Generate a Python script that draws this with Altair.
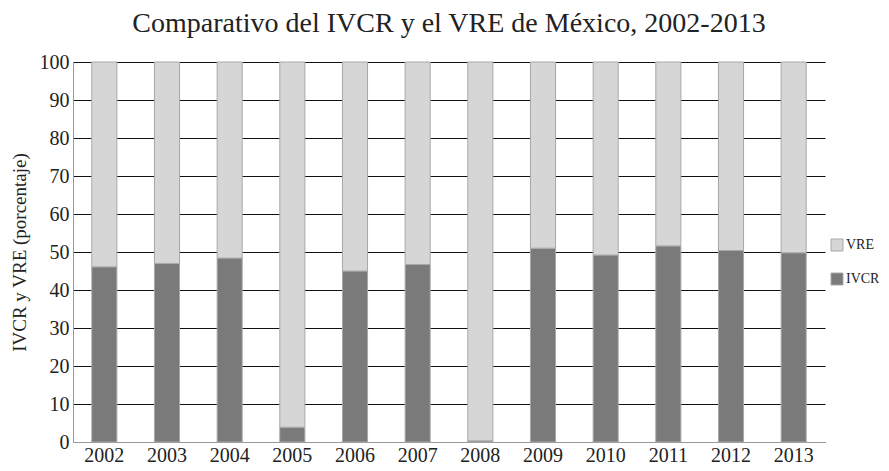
import altair as alt
import pandas as pd

years = ["2002", "2003", "2004", "2005", "2006", "2007", "2008", "2009", "2010", "2011", "2012", "2013"]
ivcr = [46.1, 47.0, 48.4, 3.9, 45.0, 46.7, 0.3, 51.0, 49.2, 51.6, 50.4, 49.8]
vre = [53.9, 53.0, 51.6, 96.1, 55.0, 53.3, 99.7, 49.0, 50.8, 48.4, 49.6, 50.2]
series = ["VRE", "IVCR"]
colors = ["#d6d6d6", "#7a7a7a"]

rows = []
for y, a, b in zip(years, ivcr, vre):
    rows.append({"year": y, "serie": "IVCR", "valor": a, "orden": 0})
    rows.append({"year": y, "serie": "VRE", "valor": b, "orden": 1})
df = pd.DataFrame(rows)

FONT = "Liberation Serif"

chart = alt.Chart(df).mark_bar(stroke="#a8a8a8", strokeWidth=1).encode(
    x=alt.X("year:N", sort=years, title=None,
            scale=alt.Scale(paddingInner=0.6, paddingOuter=0.3),
            axis=alt.Axis(labelAngle=0, ticks=False, domainColor="#999999",
                          labelFont=FONT, labelFontSize=20, labelColor="#222222",
                          labelPadding=3)),
    y=alt.Y("valor:Q", stack="zero", title="IVCR y VRE (porcentaje)",
            scale=alt.Scale(domain=[0, 100], nice=False),
            axis=alt.Axis(values=list(range(0, 101, 10)), ticks=False,
                          grid=True, gridColor="#111111", gridWidth=1,
                          domainColor="#999999", labelFont=FONT, labelFontSize=20,
                          labelColor="#222222", labelPadding=4,
                          titleFont=FONT, titleFontSize=19, titleFontWeight="normal",
                          titleColor="#222222", titlePadding=10)),
    color=alt.Color("serie:N", scale=alt.Scale(domain=series, range=colors),
                    legend=alt.Legend(title=None, orient="none", legendX=757, legendY=176,
                                      symbolType="square", symbolSize=144,
                                      symbolStrokeColor="#a8a8a8", symbolStrokeWidth=1,
                                      labelFont=FONT, labelFontSize=14, labelColor="#222222",
                                      rowPadding=18, labelOffset=2)),
    order=alt.Order("orden:Q"),
).properties(
    width=752, height=380,
    title=alt.Title("Comparativo del IVCR y el VRE de México, 2002-2013",
                    font=FONT, fontSize=28, fontWeight="normal", color="#222222",
                    anchor="middle", offset=14),
    autosize=alt.AutoSizeParams(type="none"),
    padding={"left": 65, "top": 54, "right": 54, "bottom": 26},
).configure_view(stroke=None)

chart.save("out.html", embed_options={"renderer": "svg", "actions": False})
